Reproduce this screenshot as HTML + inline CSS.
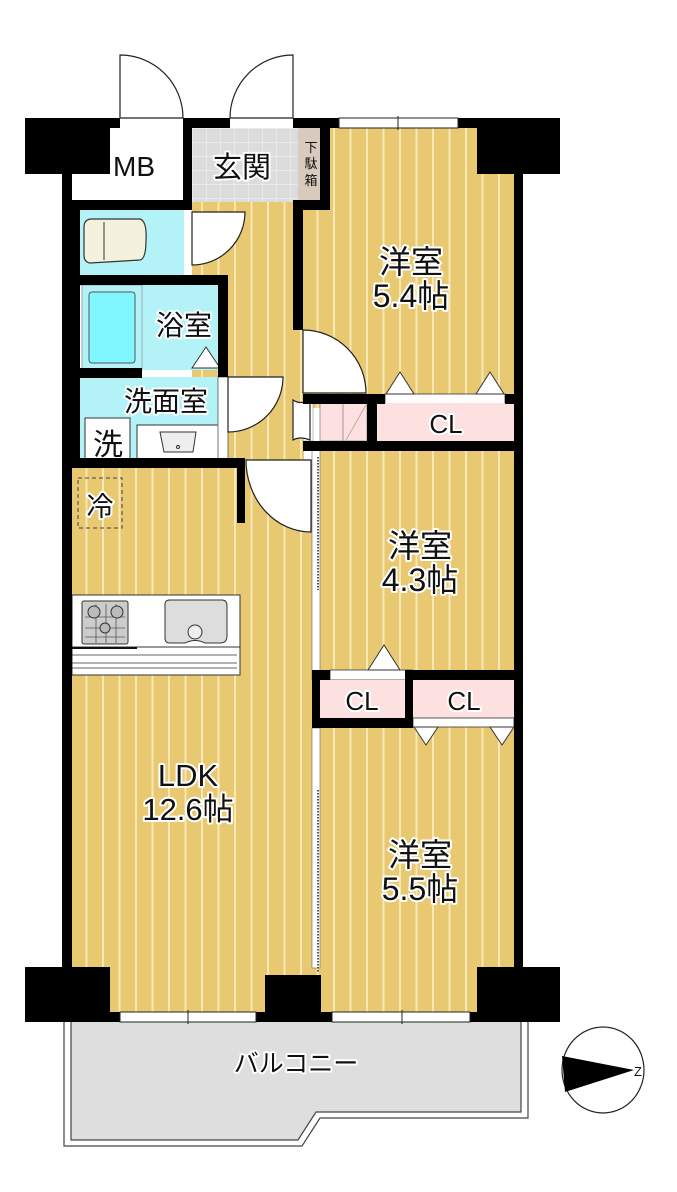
<!DOCTYPE html>
<html><head><meta charset="utf-8"><style>
html,body{margin:0;padding:0;background:#fff}
svg{display:block}
text{font-family:"Liberation Sans","Noto Sans CJK JP",sans-serif;fill:#111}
.lbl{paint-order:stroke;stroke:#fff;stroke-width:4px;stroke-linejoin:round}
</style></head><body>
<svg width="677" height="1192" viewBox="0 0 677 1192" xmlns="http://www.w3.org/2000/svg">
<defs>
<pattern id="fl" width="16.5" height="20" patternUnits="userSpaceOnUse" x="3">
<rect width="16.5" height="20" fill="#e8c972"/><rect x="0" width="2" height="20" fill="#f8e8b5"/>
</pattern>
<pattern id="tile" width="14" height="14" patternUnits="userSpaceOnUse" x="192" y="128">
<rect width="14" height="14" fill="#dcdcdc"/><path d="M0 0H14M0 0V14" stroke="#f2f2f2" stroke-width="1.2"/>
</pattern>
</defs>

<path d="M64 1020 H528 V1118 H320 L302 1146 H64 Z" fill="#fff" stroke="#444" stroke-width="1.2"/>
<path d="M71 1020 H521 V1112 H316 L298 1140 H71 Z" fill="#dedede" stroke="#444" stroke-width="1.2"/>
<text x="296" y="1072" font-size="25" text-anchor="middle" class="lbl">バルコニー</text>

<rect x="192" y="200" width="112" height="270" fill="url(#fl)"/>
<rect x="72" y="465" width="245" height="555" fill="url(#fl)"/>
<rect x="303" y="128" width="215" height="280" fill="url(#fl)"/>
<rect x="316" y="445" width="202" height="575" fill="url(#fl)"/>

<rect x="72" y="128" width="115" height="75" fill="#fff"/>
<text x="134" y="176" font-size="28" text-anchor="middle">MB</text>
<rect x="192" y="128" width="106" height="74" fill="url(#tile)"/>
<text x="242" y="177" font-size="29" text-anchor="middle" class="lbl">玄関</text>
<rect x="298" y="128" width="22" height="74" fill="#d8cbbd"/>
<text x="311" y="152" font-size="13" text-anchor="middle">下</text>
<text x="311" y="168" font-size="13" text-anchor="middle">駄</text>
<text x="311" y="185" font-size="13" text-anchor="middle">箱</text>

<rect x="80" y="210" width="104" height="65" fill="#b3f3f8"/>
<path d="M84 227 Q84 219 92 219 H140 Q147 221 146 240 Q146 259 140 260 L90 263 Q84 262 84 255 Z" fill="#f4f2dc" stroke="#333" stroke-width="1.2"/>
<line x1="104" y1="222" x2="104" y2="260" stroke="#333" stroke-width="1"/>
<rect x="72" y="285" width="148" height="85" fill="#b3f3f8"/>
<rect x="72" y="285" width="10" height="85" fill="#fff" stroke="#999" stroke-width="0.8"/>
<rect x="82" y="285" width="60" height="85" fill="#b3f3f8" stroke="#999" stroke-width="0.8"/>
<rect x="89" y="292" width="46" height="71" rx="3" fill="#80f7ff" stroke="#555"/>
<text x="184" y="335" font-size="28" text-anchor="middle" class="lbl">浴室</text>
<path d="M192 368 L206 347 L220 368 Z" fill="#fff" stroke="#333"/>
<rect x="80" y="377" width="140" height="83" fill="#b3f3f8"/>
<text x="166" y="411" font-size="28" text-anchor="middle" class="lbl">洗面室</text>
<rect x="85" y="418" width="45" height="42" fill="#fff" stroke="#333"/>
<text x="108" y="455" font-size="30" text-anchor="middle">洗</text>
<rect x="137" y="425" width="83" height="35" fill="#fff" stroke="#333"/>
<path d="M160 432 H196 L193 452 H164 Z" fill="#eee" stroke="#333"/>
<circle cx="178" cy="447" r="1.5" fill="none" stroke="#333"/>
<rect x="218" y="377" width="10" height="83" fill="#fff" stroke="#555" stroke-width="0.8"/>

<rect x="78" y="478" width="44" height="50" fill="none" stroke="#444" stroke-dasharray="4 3"/>
<text x="100" y="516" font-size="27" text-anchor="middle" class="lbl">冷</text>

<rect x="72" y="595" width="168" height="80" fill="#fff" stroke="#333"/>
<line x1="72" y1="647" x2="240" y2="647" stroke="#333"/>
<line x1="72" y1="655" x2="237" y2="655" stroke="#333" stroke-width="0.8"/>
<line x1="72" y1="663" x2="237" y2="663" stroke="#333" stroke-width="0.8"/>
<line x1="72" y1="668" x2="237" y2="668" stroke="#333" stroke-width="0.8"/>
<line x1="72" y1="648" x2="137" y2="648" stroke="#111" stroke-width="2"/>
<rect x="82" y="601" width="46" height="43" rx="2" fill="#ccc" stroke="#333"/>
<path d="M85 617H125M85 628H125M85 637H125M96 604V643M106 604V643M116 604V643" stroke="#555" stroke-width="0.8"/>
<circle cx="94" cy="612" r="6" fill="#bbb" stroke="#333"/><circle cx="117" cy="612" r="6" fill="#bbb" stroke="#333"/><circle cx="105" cy="628" r="5" fill="#bbb" stroke="#333"/>
<path d="M168 600 H222 Q227 600 227 606 V636 Q227 643 220 643 H205 Q195 638 185 643 H170 Q165 643 165 638 V604 Q165 600 170 600 Z" fill="#ddd" stroke="#333"/>
<circle cx="195" cy="632" r="7" fill="#eee" stroke="#333"/>
<text x="188" y="786" font-size="31" text-anchor="middle" class="lbl">LDK</text>
<text x="188" y="820" font-size="31" text-anchor="middle" class="lbl">12.6帖</text>

<text x="411" y="273" font-size="32" text-anchor="middle" class="lbl">洋室</text>
<text x="411" y="307" font-size="32" text-anchor="middle" class="lbl">5.4帖</text>
<rect x="385" y="394" width="120" height="10" fill="#fff" stroke="#333" stroke-width="0.8"/>
<path d="M386 394 L400 372 L414 394 Z M476 394 L490 372 L504 394 Z" fill="#fff" stroke="#333"/>
<rect x="320" y="403" width="47" height="38" fill="#fde0e0" stroke="#888" stroke-width="0.8"/>
<line x1="343" y1="403" x2="343" y2="441" stroke="#888" stroke-width="0.8"/>
<line x1="366" y1="405" x2="346" y2="440" stroke="#c99" stroke-width="0.8"/>
<rect x="377" y="403" width="137" height="38" fill="#fde0e0"/>
<text x="446" y="433" font-size="26" text-anchor="middle" class="lbl">CL</text>
<rect x="303" y="403" width="10" height="38" fill="#fff" stroke="#999" stroke-width="0.6"/>

<text x="420" y="557" font-size="32" text-anchor="middle" class="lbl">洋室</text>
<text x="420" y="591" font-size="32" text-anchor="middle" class="lbl">4.3帖</text>
<rect x="330" y="670" width="82" height="10" fill="#fff" stroke="#333" stroke-width="0.8"/>
<path d="M368 670 L384 645 L400 670 Z" fill="#fff" stroke="#333"/>
<rect x="320" y="680" width="85" height="38" fill="#fde0e0"/>
<text x="362" y="710" font-size="26" text-anchor="middle" class="lbl">CL</text>
<rect x="413" y="680" width="101" height="38" fill="#fde0e0"/>
<text x="464" y="710" font-size="26" text-anchor="middle" class="lbl">CL</text>
<rect x="413" y="718" width="101" height="9" fill="#fff" stroke="#333" stroke-width="0.8"/>
<path d="M414 727 L426 745 L438 727 Z M490 727 L502 745 L514 727 Z" fill="#fff" stroke="#333"/>

<text x="420" y="866" font-size="32" text-anchor="middle" class="lbl">洋室</text>
<text x="420" y="900" font-size="32" text-anchor="middle" class="lbl">5.5帖</text>

<rect x="312" y="450" width="8" height="230" fill="#fff" stroke="#666" stroke-width="0.6"/>
<line x1="318" y1="457" x2="318" y2="590" stroke="#555" stroke-width="2" stroke-dasharray="1.5 1.5"/>
<rect x="312" y="728" width="8" height="240" fill="#fff" stroke="#666" stroke-width="0.6"/>
<line x1="318" y1="790" x2="318" y2="972" stroke="#555" stroke-width="2" stroke-dasharray="1.5 1.5"/>

<g fill="#fff" stroke="#222" stroke-width="1.2">
<path d="M120 118 V55 A63 63 0 0 1 183 118 Z"/>
<path d="M293 118 V55 A63 63 0 0 0 230 118 Z"/>
<path d="M192 212 H245 A53 53 0 0 1 192 265 Z"/>
<path d="M228 377 H283 A55 55 0 0 1 228 432 Z"/>
<path d="M303 330 V393 H366 A63 63 0 0 0 303 330 Z"/>
<path d="M246 460 H311 V532 A65 72 0 0 1 246 460 Z"/>
<path d="M293 400 V440 Q300 436 310 440 V400 Q300 405 293 400 Z"/>
</g>

<g fill="#000">
<rect x="25" y="118" width="85" height="56"/>
<rect x="110" y="118" width="10" height="10"/>
<rect x="183" y="118" width="47" height="10"/>
<rect x="293" y="118" width="46" height="10"/>
<rect x="458" y="118" width="20" height="10"/>
<rect x="477" y="118" width="83" height="56"/>
<rect x="62" y="174" width="10" height="848"/>
<rect x="62" y="200" width="18" height="76"/>
<rect x="514" y="174" width="9" height="800"/>
<rect x="183" y="128" width="9" height="82"/>
<rect x="72" y="200" width="120" height="10"/>
<rect x="320" y="128" width="10" height="80"/>
<rect x="293" y="200" width="37" height="10"/>
<rect x="293" y="200" width="10" height="130"/>
<rect x="184" y="275" width="44" height="10"/>
<rect x="72" y="275" width="120" height="10"/>
<rect x="218" y="275" width="10" height="102"/>
<rect x="72" y="275" width="8" height="185"/>
<rect x="72" y="368" width="70" height="10"/>
<rect x="62" y="458" width="183" height="10"/>
<rect x="237" y="458" width="8" height="65"/>
<rect x="303" y="394" width="82" height="10"/>
<rect x="505" y="394" width="18" height="10"/>
<rect x="367" y="403" width="10" height="40"/>
<rect x="303" y="441" width="220" height="10"/>
<rect x="312" y="441" width="8" height="10"/>
<rect x="312" y="670" width="18" height="10"/>
<rect x="412" y="670" width="111" height="10"/>
<rect x="312" y="670" width="8" height="58"/>
<rect x="405" y="670" width="8" height="58"/>
<rect x="312" y="718" width="101" height="10"/>
<rect x="25" y="967" width="85" height="55"/>
<rect x="477" y="967" width="83" height="55"/>
<rect x="265" y="975" width="56" height="47"/>
<rect x="110" y="1012" width="10" height="10"/>
<rect x="256" y="1012" width="10" height="10"/>
<rect x="320" y="1012" width="12" height="10"/>
<rect x="470" y="1012" width="10" height="10"/>
</g>
<g fill="#fff" stroke="#222" stroke-width="1">
<rect x="339" y="118" width="119" height="10"/>
<rect x="120" y="1012" width="136" height="10"/>
<rect x="332" y="1012" width="138" height="10"/>
</g>
<path d="M398 116V130M188 1010V1024M402 1010V1024" stroke="#222"/>

<ellipse cx="603" cy="1070" rx="41" ry="43" fill="#fff" stroke="#222" stroke-width="1.2"/>
<path d="M562 1056 L634 1070 L565 1092 Z" fill="#000"/>
<text x="634" y="1076" font-size="13">Z</text>
</svg>
</body></html>
